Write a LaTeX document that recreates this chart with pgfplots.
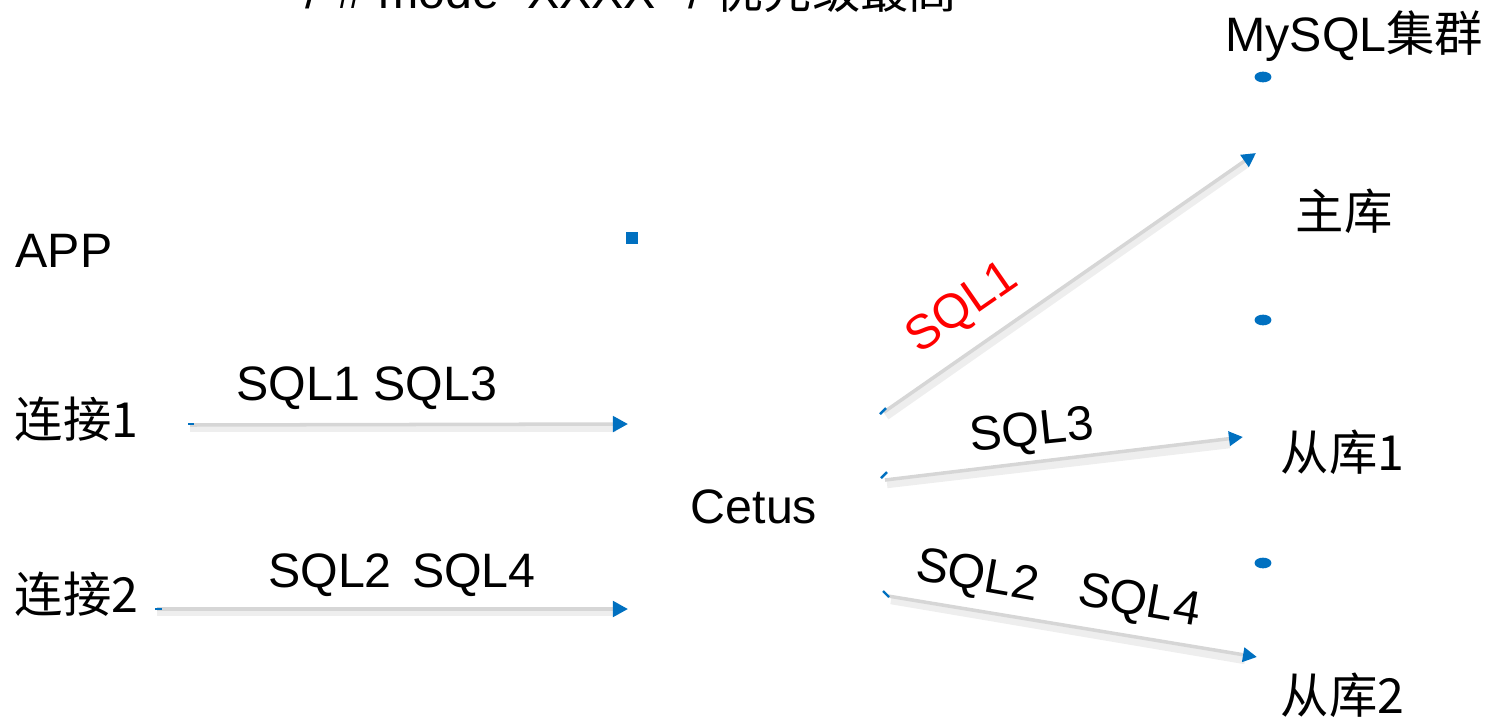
\documentclass[border=0pt]{standalone}
\usepackage{fontspec}
\setmainfont{Liberation Sans}
\newfontfamily\cjk{Noto Sans CJK SC}
\usepackage{pgfplots}
\pgfplotsset{compat=1.18}
\usetikzlibrary{arrows.meta}
\definecolor{tipblue}{RGB}{0,112,192}
\definecolor{linegray}{RGB}{214,214,214}
\definecolor{shadowgray}{RGB}{238,238,238}
\begin{document}
\begin{tikzpicture}
\begin{axis}[
  width=14.86cm, height=7.18cm, scale only axis,
  xmin=0, xmax=1486, ymin=0, ymax=718, y dir=reverse,
  hide axis, clip=false,
  every axis plot/.append style={forget plot},
  nodes={font=\fontsize{13.75pt}{16pt}\selectfont, inner sep=0pt},
]
% shadows of the arrows
\addplot[shadowgray, line width=2.4pt] coordinates {(190,428) (616,428)};
\addplot[shadowgray, line width=2.4pt] coordinates {(157,612) (616,612)};
\addplot[shadowgray, line width=2.4pt] coordinates {(886,416) (1246,164)};
\addplot[shadowgray, line width=2.4pt] coordinates {(887,484) (1230,444)};
\addplot[shadowgray, line width=2.4pt] coordinates {(891,600) (1245,660)};
% arrows
\addplot[linegray, line width=1.0pt, -{Triangle[length=4.3pt,width=4.4pt,color=tipblue]}] coordinates {(190,425) (628,424)};
\addplot[linegray, line width=1.0pt, -{Triangle[length=4.3pt,width=4.4pt,color=tipblue]}] coordinates {(157,609) (628,609)};
\addplot[linegray, line width=1.0pt, -{Triangle[length=4.0pt,width=4.0pt,color=tipblue]}] coordinates {(884,412) (1256,153)};
\addplot[linegray, line width=1.0pt, -{Triangle[length=4.0pt,width=4.0pt,color=tipblue]}] coordinates {(885,480) (1243,437)};
\addplot[linegray, line width=1.0pt, -{Triangle[length=4.0pt,width=4.0pt,color=tipblue]}] coordinates {(888,596) (1257,657)};
% start ticks
\addplot[tipblue, line width=0.8pt] coordinates {(188,424) (194,424)};
\addplot[tipblue, line width=0.8pt] coordinates {(155,609) (162,609)};
\addplot[tipblue, line width=0.7pt] coordinates {(880,414) (886,408)};
\addplot[tipblue, line width=0.7pt] coordinates {(881,478) (887,472)};
\addplot[tipblue, line width=0.7pt] coordinates {(883,591) (889,597)};
% small markers
\addplot[only marks, mark=square*, mark size=1.45pt, color=tipblue] coordinates {(632,238)};
\addplot[only marks, mark=*, mark size=2.2pt, mark options={yscale=0.6}, color=tipblue] coordinates {(1263,77) (1263,320) (1263,563)};
% labels
\node[anchor=base west] at (305,8) {/*\# mode=XXXX */ \cjk{优先级最高}};
\node[anchor=base east] at (1484,51) {MySQL\cjk{集群}};
\node[anchor=base west] at (15,267) {APP};
\node[anchor=base west] at (14,437) {\cjk{连接}1};
\node[anchor=base west] at (14,612) {\cjk{连接}2};
\node[anchor=base] at (367,400) {SQL1 SQL3};
\node[anchor=base] at (402,587) {SQL2\hspace{0.42em}SQL4};
\node[anchor=base] at (754,523) {Cetus};
\node[anchor=base west] at (1295,229) {\cjk{主库}};
\node[anchor=base west] at (1280,470) {\cjk{从库}1};
\node[anchor=base west] at (1280,713) {\cjk{从库}2};
\node[red, rotate=34.7] at (963,309) {SQL1};
\node[rotate=6] at (1032,433) {SQL3};
\node[rotate=-10] at (977,578) {SQL2};
\node[rotate=-10] at (1139,603) {SQL4};
\end{axis}
\pgfresetboundingbox
\useasboundingbox (current axis.south west) rectangle (current axis.north east);
\end{tikzpicture}
\end{document}
